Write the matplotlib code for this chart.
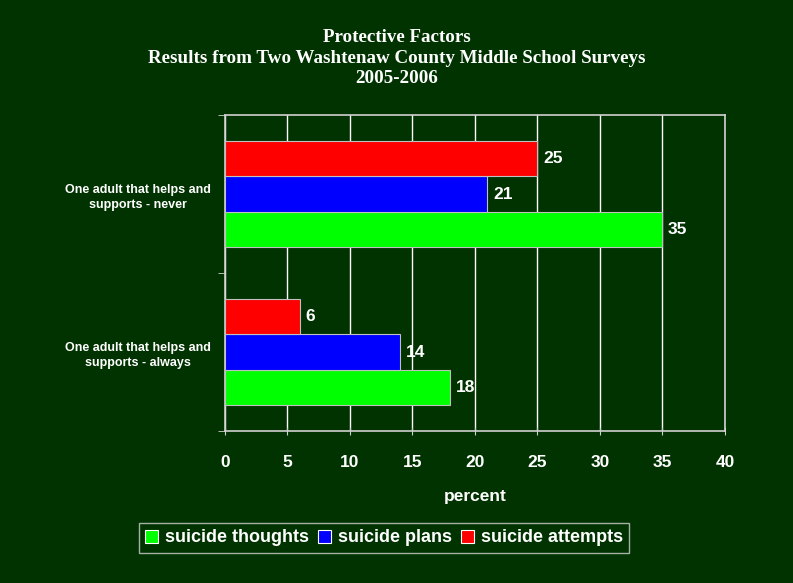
import numpy as np
import matplotlib.pyplot as plt

categories = ["One adult that helps and\nsupports - always",
              "One adult that helps and\nsupports - never"]
thoughts = [18, 35]
plans = [14, 21]
attempts = [6, 25]
series_names = ["suicide thoughts", "suicide plans", "suicide attempts"]
series_colors = ["#00ff00", "#0000ff", "#ff0000"]
xticks = [0, 5, 10, 15, 20, 25, 30, 35, 40]

bg = "#003300"
fig = plt.figure(figsize=(7.93, 5.83), dpi=100, facecolor=bg)
ax = fig.add_axes([0.2837, 0.2607, 0.6305, 0.542], facecolor=bg)

y = np.arange(len(categories))
h = 0.222
for i, (vals, name, col) in enumerate(zip([thoughts, plans, attempts], series_names, series_colors)):
    pos = y + (i - 1) * h
    bars = ax.barh(pos, vals, height=h, color=col, edgecolor="#c0c0c0", linewidth=0.8, label=name, zorder=3)
    for b, v in zip(bars, vals):
        ax.text(v + 0.45, b.get_y() + h / 2, str(v), color="white", fontweight="bold",
                fontsize=12.5, va="center", ha="left", family="Liberation Sans", zorder=4)

ax.set_xlim(0, 40)
ax.set_ylim(-0.5, 1.5)
ax.set_xticks(xticks)
ax.set_xticklabels([str(t) for t in xticks], color="white", fontsize=12.5, fontweight="bold",
                   family="Liberation Sans")
ax.tick_params(axis="x", colors="#d0d0d0", length=6, direction="inout", pad=14, labelcolor="white")
ax.set_yticks(y)
ax.set_yticklabels(categories, color="white", fontsize=9, fontweight="bold",
                   family="Liberation Sans", multialignment="center", linespacing=1.35)
ax.tick_params(axis="y", length=0, pad=10)
ax.set_yticks([-0.5, 0.5, 1.5], minor=True)
ax.tick_params(axis="y", which="minor", length=5, color="#d0d0d0")
ax.grid(axis="x", color="white", linewidth=1, zorder=0)
for s in ax.spines.values():
    s.set_color("#d0d0d0")
    s.set_linewidth(1.2)

ax.set_xlabel("percent", color="white", fontsize=12.5, fontweight="bold",
              family="Liberation Sans", labelpad=14)

fig.text(0.5, 0.9005, "Protective Factors\nResults from Two Washtenaw County Middle School Surveys\n2005-2006",
         ha="center", va="center", color="white", fontsize=13.7, fontweight="bold",
         family="Liberation Serif", linespacing=1.25)

leg = fig.legend(loc="center", bbox_to_anchor=(0.484, 0.0772), ncol=3, frameon=True,
                 prop={"family": "Liberation Sans", "weight": "bold", "size": 13},
                 handlelength=0.75, handleheight=0.75, handletextpad=0.35, columnspacing=0.5,
                 borderpad=0.35, borderaxespad=0, fancybox=False, facecolor=bg, edgecolor="#d0d0d0")
leg.get_frame().set_linewidth(1)
for t in leg.get_texts():
    t.set_color("white")
for p in leg.get_patches():
    p.set_edgecolor("white")

fig.savefig("out.png", dpi=100, facecolor=bg)
